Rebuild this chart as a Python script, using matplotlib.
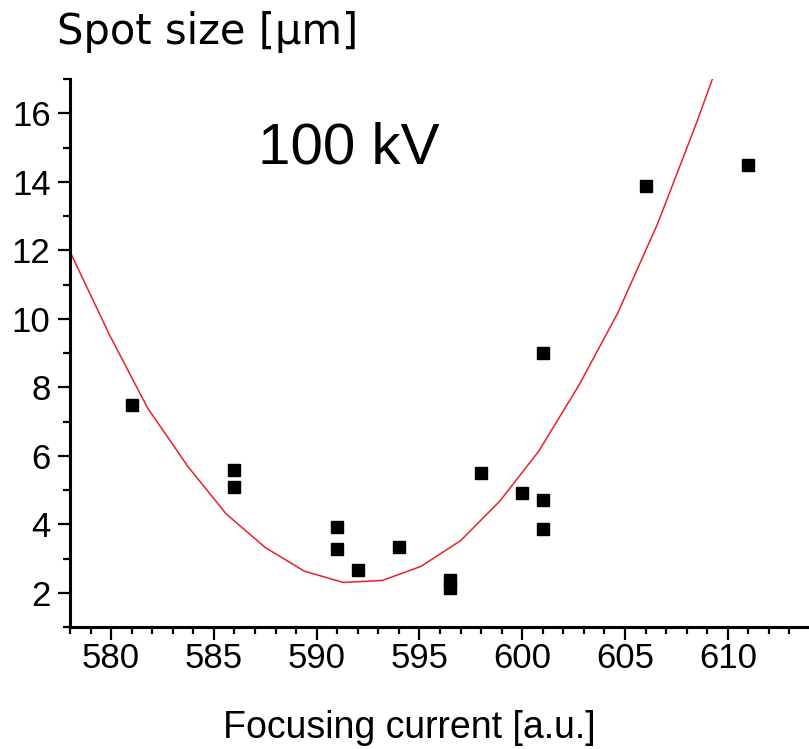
"""Spot size vs focusing current at 100 kV, with the fitted curve."""

import matplotlib

matplotlib.use("Agg")
import matplotlib.pyplot as plt
from matplotlib.ticker import MultipleLocator

# measured spot sizes
current = [581, 586, 586, 591, 591, 592, 594, 596.5, 596.5, 598, 600, 601, 601, 601, 606, 611]
spot = [7.47, 5.57, 5.08, 3.93, 3.29, 2.65, 3.35, 2.36, 2.13, 5.5, 4.92, 4.7, 3.86, 9.0, 13.89, 14.48]

# fit curve, as drawn (polyline vertices)
fit_x = [578.0, 579.92, 581.78, 583.73, 585.6, 587.5, 589.4, 591.3, 593.2,
         595.07, 597.0, 598.9, 600.8, 602.77, 604.64, 606.59, 608.53, 609.25]
fit_y = [11.96, 9.53, 7.39, 5.69, 4.3, 3.32, 2.63, 2.3, 2.36,
         2.77, 3.52, 4.67, 6.13, 8.07, 10.16, 12.78, 15.8, 17.0]

xticks = [580, 585, 590, 595, 600, 605, 610]
yticks = [2, 4, 6, 8, 10, 12, 14, 16]

W, H = 809, 749
fig = plt.figure(figsize=(W / 100, H / 100), dpi=100)
ax = fig.add_axes([70 / W, 122 / H, 1 - 70 / W, (627 - 79) / H])

ax.plot(fit_x, fit_y, color="#e8202a", lw=1.1, zorder=2)
ax.plot(current, spot, ls="none", marker="s", ms=9, color="black", zorder=3)

ax.set_xlim(578, 613.95)
ax.set_ylim(1, 17)
ax.set_xticks(xticks)
ax.set_yticks(yticks)
ax.xaxis.set_minor_locator(MultipleLocator(1))
ax.yaxis.set_minor_locator(MultipleLocator(1))

for side in ("top", "right"):
    ax.spines[side].set_visible(False)
for side in ("left", "bottom"):
    ax.spines[side].set_linewidth(2.2)

tick_font = "Liberation Sans"
ax.tick_params(which="major", direction="out", length=9, width=1.6, labelsize=25)
ax.tick_params(which="minor", direction="out", length=5, width=1.6)
ax.tick_params(axis="x", which="major", pad=2)
ax.tick_params(axis="y", which="major", pad=5)
for lab in ax.get_xticklabels() + ax.get_yticklabels():
    lab.set_fontfamily(tick_font)

fig.text(57 / W, 1 - 44 / H, "Spot size [\u03bcm]", fontsize=30,
         family="DejaVu Sans", va="baseline", ha="left")
fig.text(258 / W, 1 - 163 / H, "100 kV", fontsize=42,
         family=tick_font, va="baseline", ha="left")
fig.text(409 / W, 1 - 738 / H, "Focusing current [a.u.]", fontsize=27,
         family=tick_font, va="baseline", ha="center")

fig.savefig("out.png", dpi=100)
